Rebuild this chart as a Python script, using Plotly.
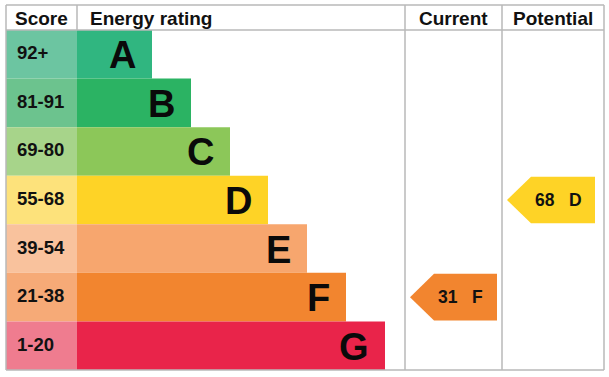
import plotly.graph_objects as go

# ---- data ----
ratings = ["A", "B", "C", "D", "E", "F", "G"]
score_ranges = ["92+", "81-91", "69-80", "55-68", "39-54", "21-38", "1-20"]
band_min_score = [92, 81, 69, 55, 39, 21, 1]
bar_length = [75, 114, 153, 191, 230, 269, 308]
score_colors = ["#6cc5a1", "#6cc38e", "#a7d48a", "#fde27b", "#f9c29d", "#f6aa77", "#ef7c8f"]
bar_colors = ["#30b680", "#2bb363", "#8cc759", "#fed326", "#f7a66e", "#f2852f", "#e9244a"]
headers = ["Score", "Energy rating", "Current", "Potential"]
current_score = 31
potential_score = 68

# ---- layout constants (pixels) ----
W, H = 609, 377
FRAME_L, FRAME_R, FRAME_T, FRAME_B = 6, 604, 5, 370
ROW_TOP = 30
ROW_H = (FRAME_B - ROW_TOP) / 7
SCORE_R = 77
CUR_L, POT_L = 405, 502
LINE_COLOR = "#b9b9b9"
FONT = "Liberation Sans, Arial, sans-serif"


def py(p):
    """pixel y -> row-unit y"""
    return (p - ROW_TOP) / ROW_H - 0.5


def band_of(score):
    for i, m in enumerate(band_min_score):
        if score >= m:
            return i
    return len(band_min_score) - 1


rows = list(range(len(ratings)))
fig = go.Figure()

fig.add_trace(go.Bar(
    orientation="h", y=rows, x=[SCORE_R - FRAME_L] * len(rows), base=FRAME_L,
    width=1.0, marker=dict(color=score_colors, line=dict(width=0)), hoverinfo="skip",
))
fig.add_trace(go.Bar(
    orientation="h", y=rows, x=bar_length, base=SCORE_R,
    width=1.0, marker=dict(color=bar_colors, line=dict(width=0)), hoverinfo="skip",
))

ann = []
for i, (r, s, L) in enumerate(zip(ratings, score_ranges, bar_length)):
    ann.append(dict(x=15, y=i - 0.03, text=f"<b>{s}</b>", xanchor="left", yanchor="middle",
                    showarrow=False, font=dict(family=FONT, size=18.5, color="#111")))
    ann.append(dict(x=SCORE_R + L - 14, y=i + 0.02, text=f"<b>{r}</b>", xanchor="right",
                    yanchor="middle", showarrow=False,
                    font=dict(family=FONT, size=38, color="#0a0a0a")))

# headers
hy = py(18)
ann.append(dict(x=(FRAME_L + SCORE_R) / 2, y=hy, text=f"<b>{headers[0]}</b>", showarrow=False,
                xanchor="center", yanchor="middle", font=dict(family=FONT, size=19, color="#111")))
ann.append(dict(x=88, y=hy, text=f"<b>{headers[1]}</b>", showarrow=False,
                xanchor="left", yanchor="middle", font=dict(family=FONT, size=19, color="#111")))
ann.append(dict(x=(CUR_L + POT_L) / 2, y=hy, text=f"<b>{headers[2]}</b>", showarrow=False,
                xanchor="center", yanchor="middle", font=dict(family=FONT, size=19, color="#111")))
ann.append(dict(x=(POT_L + FRAME_R) / 2, y=hy, text=f"<b>{headers[3]}</b>", showarrow=False,
                xanchor="center", yanchor="middle", font=dict(family=FONT, size=19, color="#111")))

# arrows
for score, col_l, col_r, gap_r in [(current_score, CUR_L, POT_L, 5), (potential_score, POT_L, FRAME_R, 9)]:
    b = band_of(score)
    tip = col_l + 5
    notch = col_l + 29
    right = col_r - gap_r
    ins = 0.02
    xs = [tip, notch, right, right, notch, tip]
    ys = [b, b - 0.5 + ins, b - 0.5 + ins, b + 0.5 - ins, b + 0.5 - ins, b]
    fig.add_trace(go.Scatter(x=xs, y=ys, fill="toself", fillcolor=bar_colors[b], mode="lines",
                             line=dict(width=0, color=bar_colors[b]), hoverinfo="skip"))
    ann.append(dict(x=(notch + right) / 2 - 5, y=b, text=f"<b>{score}\u00a0\u00a0\u00a0{ratings[b]}</b>",
                    showarrow=False, xanchor="center", yanchor="middle",
                    font=dict(family=FONT, size=17.5, color="#111")))

# table lines
shapes = []
def line(x0, y0, x1, y1):
    shapes.append(dict(type="line", x0=x0, x1=x1, y0=py(y0), y1=py(y1), xref="x", yref="y",
                       line=dict(color=LINE_COLOR, width=1.5), layer="above"))

line(FRAME_L, FRAME_T, FRAME_R, FRAME_T)
line(FRAME_L, FRAME_B, FRAME_R, FRAME_B)
line(FRAME_L, FRAME_T, FRAME_L, FRAME_B)
line(FRAME_R, FRAME_T, FRAME_R, FRAME_B)
line(FRAME_L, ROW_TOP, FRAME_R, ROW_TOP)
line(SCORE_R, FRAME_T, SCORE_R, ROW_TOP)
line(CUR_L, FRAME_T, CUR_L, FRAME_B)
line(POT_L, FRAME_T, POT_L, FRAME_B)

fig.update_layout(
    width=W, height=H, margin=dict(l=0, r=0, t=0, b=0),
    paper_bgcolor="white", plot_bgcolor="white",
    showlegend=False, barmode="overlay", hovermode=False,
    xaxis=dict(range=[0, W], visible=False, fixedrange=True),
    yaxis=dict(range=[py(H), py(0)], visible=False, fixedrange=True),
    annotations=ann, shapes=shapes,
)

fig.write_html("out.html", config={"displayModeBar": False},
               post_script="document.body.style.margin='0';document.body.style.overflow='hidden';")
